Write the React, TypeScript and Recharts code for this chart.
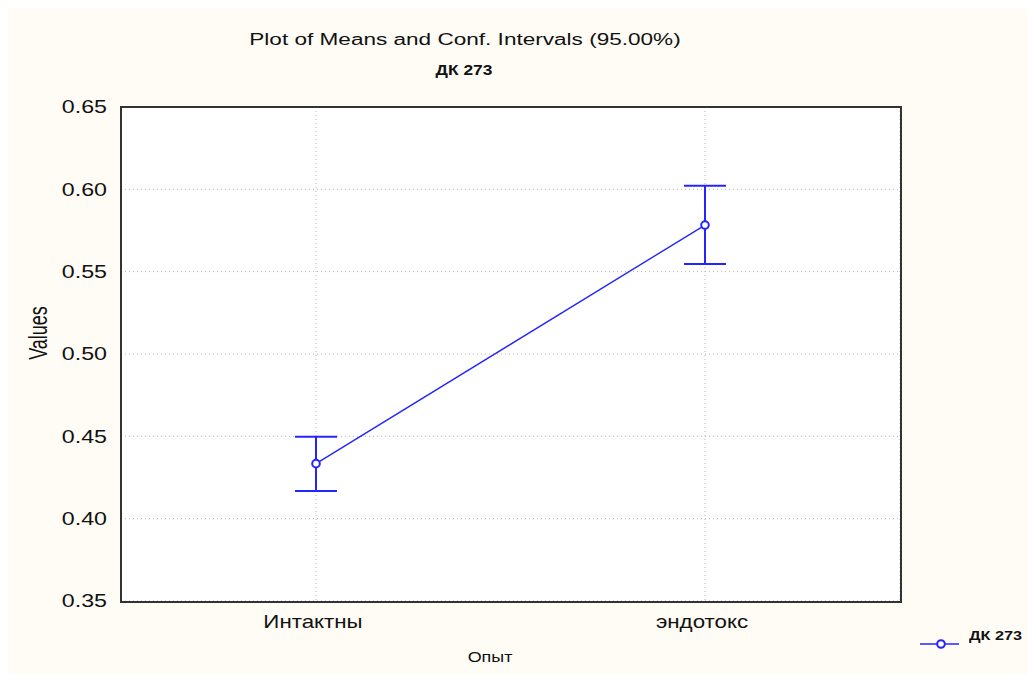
import {
  CartesianGrid,
  ComposedChart,
  ErrorBar,
  Line,
  XAxis,
  YAxis,
} from "recharts";

const groups = ["Интактны", "эндотокс"];
const means = [0.4334, 0.5783];
const lower = [0.4168, 0.5547];
const upper = [0.4497, 0.6022];
const yTicks = [0.35, 0.4, 0.45, 0.5, 0.55, 0.6, 0.65];

const seriesName = "ДК 273";
const BLUE = "#2424ff";
const FONT = "'Liberation Sans', Arial, sans-serif";

const data = groups.map((g, i) => ({
  group: g,
  mean: means[i],
  ci: [means[i] - lower[i], upper[i] - means[i]],
}));

function YTick(props: any) {
  const { x, y, payload } = props;
  return (
    <text
      transform={`translate(${x},${y}) scale(1.29,1)`}
      textAnchor="end"
      dy="0.35em"
      fontSize={18}
      fontFamily={FONT}
      fill="#111"
    >
      {Number(payload.value).toFixed(2)}
    </text>
  );
}

function XTick(props: any) {
  const { x, y, payload } = props;
  return (
    <text
      transform={`translate(${x - 3},${y}) scale(1.24,1)`}
      textAnchor="middle"
      dy="0.71em"
      fontSize={18}
      fontFamily={FONT}
      fill="#111"
    >
      {payload.value}
    </text>
  );
}

const textBase: React.CSSProperties = {
  position: "absolute",
  fontFamily: FONT,
  color: "#111",
  whiteSpace: "nowrap",
  lineHeight: 1,
};

export default function App() {
  return (
    <div
      style={{
        position: "relative",
        width: 1020,
        height: 666,
        background: "#fffcf6",
      }}
    >
      <ComposedChart
        width={1020}
        height={666}
        data={data}
        margin={{ top: 99, right: 128, bottom: 0, left: 0 }}
      >
        <CartesianGrid
          fill="#ffffff"
          stroke="#b4b4b4"
          strokeDasharray="1 3"
        />
        <XAxis
          dataKey="group"
          height={73}
          padding={{ left: 195, right: 195 }}
          axisLine={false}
          tickLine={false}
          tickMargin={8}
          tick={XTick}
          interval={0}
        />
        <YAxis
          width={113}
          domain={[0.35, 0.65]}
          ticks={yTicks}
          axisLine={false}
          tickLine={false}
          tickMargin={8}
          tick={YTick}
          interval={0}
        />
        <Line
          type="linear"
          dataKey="mean"
          name={seriesName}
          stroke={BLUE}
          strokeWidth={1.4}
          dot={{ r: 3.8, fill: "#fff", stroke: BLUE, strokeWidth: 2 }}
          isAnimationActive={false}
        >
          <ErrorBar
            dataKey="ci"
            direction="y"
            width={21}
            stroke={BLUE}
            strokeWidth={2}
          />
        </Line>
      </ComposedChart>

      <div
        style={{
          position: "absolute",
          left: 112,
          top: 98,
          width: 782,
          height: 497,
          boxSizing: "border-box",
          border: "2px solid #333",
          pointerEvents: "none",
        }}
      />

      <div
        style={{
          ...textBase,
          left: 457,
          top: 32,
          fontSize: 16,
          transform: "translate(-50%,-50%) scaleX(1.41)",
        }}
      >
        Plot of Means and Conf. Intervals (95.00%)
      </div>
      <div
        style={{
          ...textBase,
          left: 456,
          top: 62,
          fontSize: 14,
          fontWeight: "bold",
          transform: "translate(-50%,-50%) scaleX(1.24)",
        }}
      >
        {seriesName}
      </div>
      <div
        style={{
          ...textBase,
          left: 31,
          top: 325,
          fontSize: 18,
          transform: "translate(-50%,-50%) scaleX(1.4) rotate(-90deg)",
        }}
      >
        Values
      </div>
      <div
        style={{
          ...textBase,
          left: 482,
          top: 649,
          fontSize: 14,
          transform: "translate(-50%,-50%) scaleX(1.28)",
        }}
      >
        Опыт
      </div>

      <div
        style={{
          position: "absolute",
          left: 911,
          top: 617,
          display: "flex",
          alignItems: "flex-start",
          fontFamily: FONT,
        }}
      >
        <svg width={40} height={24}>
          <line x1={1} y1={19} x2={40} y2={19} stroke={BLUE} strokeWidth={1.5} />
          <circle cx={22} cy={19} r={3.8} fill="#fff" stroke={BLUE} strokeWidth={2} />
        </svg>
        <span
          style={{
            marginLeft: 10,
            marginTop: 3,
            fontSize: 13,
            fontWeight: "bold",
            color: "#111",
            display: "inline-block",
            transform: "scaleX(1.25)",
            transformOrigin: "left center",
            whiteSpace: "nowrap",
          }}
        >
          {seriesName}
        </span>
      </div>
    </div>
  );
}
